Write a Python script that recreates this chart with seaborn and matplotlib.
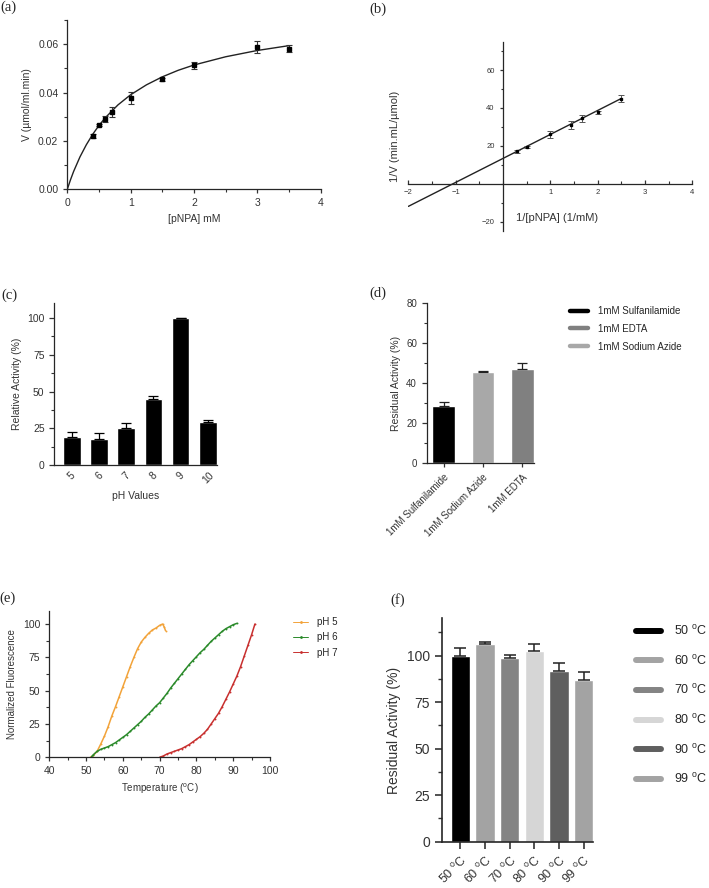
import numpy as np
import seaborn as sns
import matplotlib
matplotlib.use("Agg")
import matplotlib.pyplot as plt
from matplotlib.lines import Line2D
from matplotlib.ticker import MultipleLocator

W, H = 709, 888

# (a) Michaelis-Menten plot
mm_conc = [0.4, 0.5, 0.6, 0.7, 1.0, 1.5, 2.0, 3.0, 3.5]
mm_rate = [0.0221, 0.0265, 0.0291, 0.0319, 0.0377, 0.0454, 0.0512, 0.0589, 0.0581]
mm_err = [0.0007, 0.0005, 0.0012, 0.0020, 0.0025, 0.0005, 0.0015, 0.0025, 0.0015]
fit_conc = [0, 0.05, 0.1, 0.2, 0.3, 0.4, 0.5, 0.6, 0.8, 1.0, 1.25, 1.5, 1.75, 2.0, 2.5, 3.0, 3.5]
fit_rate = [0, 0.0039, 0.0074, 0.0134, 0.0184, 0.0227, 0.0264, 0.0296, 0.0349, 0.0391,
            0.0432, 0.0465, 0.0492, 0.0514, 0.0548, 0.0574, 0.0594]

# (b) Lineweaver-Burk plot
lb_inv_conc = [0.286, 0.5, 1.0, 1.43, 1.67, 2.0, 2.5]
lb_inv_rate = [17.1, 19.6, 26.0, 31.1, 34.6, 37.8, 44.9]
lb_err = [0.7, 0.5, 2.0, 2.0, 1.8, 0.8, 1.8]
lb_line_x = [-2, 2.5]
lb_line_y = [-12.0, 45.0]

# (c) pH profile
ph_labels = ['5', '6', '7', '8', '9', '10']
ph_activity = [19.2, 17.6, 24.9, 44.6, 100.0, 29.0]
ph_err = [3.2, 3.9, 3.8, 2.0, 0.0, 1.5]

# (d) inhibitors
inhib_labels = ['1mM Sulfanilamide', '1mM Sodium Azide', '1mM EDTA']
inhib_activity = [28.5, 45.5, 47.0]
inhib_err = [2.2, 0.3, 3.0]
inhib_colors = ['#000000', '#a8a8a8', '#808080']
inhib_legend = ['1mM Sulfanilamide', '1mM EDTA', '1mM Sodium Azide']

# (e) melting curves
ph5_temp = [51.2, 52, 53, 54, 55, 56, 57, 58, 59, 60, 61, 62, 63, 64, 65, 66, 67, 68, 69, 70,
            70.8, 71.2, 71.6]
ph5_fluor = [0, 1.5, 4.5, 10, 16, 23, 31, 38, 45.5, 53, 60.5, 68, 75, 81.5, 86.5, 90, 93,
             95.5, 97, 99, 100, 98, 95]
ph6_temp = [51.5, 52, 53, 54, 55, 56, 57, 58, 59, 60, 61, 62, 63, 64, 65, 66, 67, 68, 69, 70,
            71, 72, 73, 74, 75, 76, 77, 78, 79, 80, 81, 82, 83, 84, 85, 86, 87, 88, 89, 90, 91]
ph6_fluor = [0.5, 2, 4.5, 6, 7, 8, 9.5, 11, 13, 15, 17, 19.5, 22, 24.5, 27, 30, 32.5, 35.5,
             38.5, 41, 44.5, 48, 52, 55.5, 59, 62.5, 66, 69.5, 72.5, 75.5, 78.5, 81, 84, 87,
             89.5, 92, 94.5, 96.5, 98, 99.5, 100.5]
ph7_temp = [70, 71, 72, 73, 74, 75, 76, 77, 78, 79, 80, 81, 82, 83, 84, 85, 86, 87, 88, 89,
            90, 91, 92, 93, 94, 95, 95.9]
ph7_fluor = [0, 1, 2.5, 3.5, 4.5, 5.5, 6.5, 8, 9.5, 11.5, 13.5, 15.5, 18, 21, 25, 29, 33, 38,
             43.5, 49, 55, 61, 68, 76, 84, 92, 100]
melt_colors = ['#f2a33a', '#2a8a2a', '#c8302f']

# (f) thermal stability
temp_labels = ['50 $^{\\mathrm{o}}$C', '60 $^{\\mathrm{o}}$C', '70 $^{\\mathrm{o}}$C',
               '80 $^{\\mathrm{o}}$C', '90 $^{\\mathrm{o}}$C', '99 $^{\\mathrm{o}}$C']
temp_activity = [99.6, 106.1, 98.9, 102.5, 91.9, 86.6]
temp_err = [4.3, 1.2, 1.6, 3.6, 4.0, 4.3]
temp_colors = ['#000000', '#a3a3a3', '#848484', '#d6d6d6', '#5f5f5f', '#a3a3a3']

sns.set_style("ticks")
plt.rcParams['font.family'] = ['Liberation Sans', 'DejaVu Sans']
plt.rcParams['mathtext.fontset'] = 'custom'
plt.rcParams['mathtext.rm'] = 'Liberation Sans'
plt.rcParams['axes.linewidth'] = 0.9
plt.rcParams['xtick.major.width'] = 0.9
plt.rcParams['ytick.major.width'] = 0.9
plt.rcParams['xtick.minor.width'] = 0.8
plt.rcParams['ytick.minor.width'] = 0.8
plt.rcParams['xtick.color'] = '#333333'
plt.rcParams['ytick.color'] = '#333333'

fig = plt.figure(figsize=(W / 100, H / 100), dpi=100)


def add_ax(x0, y0, x1, y1):
    return fig.add_axes([x0 / W, 1 - y1 / H, (x1 - x0) / W, (y1 - y0) / H])


def panel_label(x, y, s):
    fig.text(x / W, 1 - y / H, s, family='Liberation Serif', fontsize=10.5,
             ha='center', va='center')


def prism_axes(ax, tick_size):
    sns.despine(ax=ax)
    ax.tick_params(axis='both', labelsize=tick_size, length=3.5)
    ax.tick_params(axis='y', which='minor', length=2)


# ---------- (a)
ax = add_ax(67.3, 20, 320.7, 189.3)
sns.lineplot(x=fit_conc, y=fit_rate, color='#222222', lw=1, ax=ax)
ax.errorbar(mm_conc, mm_rate, yerr=mm_err, fmt='s', ms=2.5, color='black',
            ecolor='#333333', elinewidth=0.8, capsize=2, capthick=0.8)
ax.set_xlim(0, 4)
ax.set_ylim(0, 0.07)
ax.set_xticks([0, 1, 2, 3, 4])
ax.set_yticks([0, 0.02, 0.04, 0.06])
ax.set_yticklabels(['0.00', '0.02', '0.04', '0.06'])
ax.xaxis.set_minor_locator(MultipleLocator(0.5))
ax.yaxis.set_minor_locator(MultipleLocator(0.01))
sns.despine(ax=ax)
ax.tick_params(axis='both', labelsize=7.5, length=3)
ax.tick_params(axis='both', which='minor', length=2)
ax.set_xlabel('[pNPA] mM', fontsize=7.5, color='#333333')
ax.set_ylabel('V (µmol/ml.min)', fontsize=7.5, color='#333333')
panel_label(8, 7, '(a)')

# ---------- (b)
ax = add_ax(408.3, 41.7, 692.3, 231)
sns.lineplot(x=lb_line_x, y=lb_line_y, color='#222222', lw=1, ax=ax)
ax.errorbar(lb_inv_conc, lb_inv_rate, yerr=lb_err, fmt='s', ms=1.8, color='black',
            ecolor='#555555', elinewidth=0.7, capsize=2, capthick=0.7)
ax.set_xlim(-2, 4)
ax.set_ylim(-25, 75)
ax.spines['left'].set_position(('data', 0))
ax.spines['bottom'].set_position(('data', 0))
ax.spines['top'].set_visible(False)
ax.spines['right'].set_visible(False)
ax.set_xticks([-2, -1, 1, 2, 3, 4])
ax.set_yticks([-20, 20, 40, 60])
ax.xaxis.set_minor_locator(MultipleLocator(0.5))
ax.yaxis.set_minor_locator(MultipleLocator(10))
ax.tick_params(axis='x', which='both', direction='in', labelsize=5.5, length=3)
ax.tick_params(axis='x', which='minor', length=2)
ax.tick_params(axis='y', labelsize=5.5, length=2.5)
ax.tick_params(axis='y', which='minor', length=1.5)
ax.set_xlabel('1/[pNPA] (1/mM)', fontsize=8, color='#333333')
ax.xaxis.set_label_coords(0.524, 0.095)
ax.set_ylabel('1/V (min.mL/µmol)', fontsize=8, color='#333333')
ax.yaxis.set_label_coords(-0.03, 0.5)
panel_label(378, 9, '(b)')

# ---------- (c)
ax = add_ax(54.3, 303.3, 216.7, 465)
sns.barplot(x=ph_labels, y=ph_activity, color='black', width=0.65, saturation=1, ax=ax)
ax.errorbar(np.arange(len(ph_labels)), ph_activity, yerr=[np.zeros(len(ph_err)), ph_err],
            fmt='none', ecolor='black', elinewidth=0.9, capsize=3.5, capthick=0.9)
ax.set_xlim(-0.65, 5.33)
ax.set_ylim(0, 110)
ax.set_yticks([0, 25, 50, 75, 100])
ax.yaxis.set_minor_locator(MultipleLocator(12.5))
prism_axes(ax, 7.5)
ax.tick_params(axis='x', length=0, pad=4)
plt.setp(ax.get_xticklabels(), rotation=45, ha='center')
ax.set_xlabel('pH Values', fontsize=7.5, color='#333333')
ax.set_ylabel('Relative Activity (%)', fontsize=7.5, color='#333333')
panel_label(9, 295, '(c)')

# ---------- (d)
ax = add_ax(426.7, 302.7, 533.7, 463.3)
sns.barplot(x=inhib_labels, y=inhib_activity, hue=inhib_labels, palette=inhib_colors,
            width=0.58, saturation=1, legend=False, ax=ax)
ax.errorbar(np.arange(len(inhib_labels)), inhib_activity,
            yerr=[np.zeros(len(inhib_err)), inhib_err],
            fmt='none', ecolor='#222222', elinewidth=0.9, capsize=3.5, capthick=0.9)
ax.set_xlim(-0.43, 2.29)
ax.set_ylim(0, 80)
ax.set_yticks([0, 20, 40, 60, 80])
ax.yaxis.set_minor_locator(MultipleLocator(10))
prism_axes(ax, 7)
ax.tick_params(axis='x', length=3)
plt.setp(ax.get_xticklabels(), rotation=45, ha='right', rotation_mode='anchor')
ax.set_xlabel('')
ax.set_ylabel('Residual Activity (%)', fontsize=7.5, color='#333333')
leg_colors = {lab: col for lab, col in zip(inhib_labels, inhib_colors)}
handles = [Line2D([], [], color=leg_colors[lab], lw=3.2) for lab in inhib_legend]
fig.legend(handles, inhib_legend, loc='upper left', bbox_to_anchor=(570 / W, 1 - 306 / H),
           frameon=False, fontsize=7, borderpad=0, borderaxespad=0, handlelength=1.85,
           handletextpad=1.0, labelspacing=0.8)
panel_label(378, 293, '(d)')

# ---------- (e)
ax = add_ax(49.3, 610.7, 270, 757.3)
for t, f, c in zip([ph5_temp, ph6_temp, ph7_temp], [ph5_fluor, ph6_fluor, ph7_fluor],
                   melt_colors):
    sns.lineplot(x=t, y=f, color=c, lw=1.1, marker='.', ms=1.2, mec=c, ax=ax)
ax.set_xlim(40, 100)
ax.set_ylim(0, 110)
ax.set_xticks(range(40, 101, 10))
ax.set_yticks([0, 25, 50, 75, 100])
ax.xaxis.set_minor_locator(MultipleLocator(5))
ax.yaxis.set_minor_locator(MultipleLocator(12.5))
sns.despine(ax=ax)
ax.tick_params(axis='both', labelsize=7.5, length=3)
ax.tick_params(axis='both', which='minor', length=2)
ax.set_xlabel('Temperature ($^{\\mathrm{o}}$C)', fontsize=7, color='#333333')
ax.set_ylabel('Normalized Fluorescence', fontsize=7, color='#333333')
handles = [Line2D([], [], color=c, lw=0.7, marker='.', ms=2) for c in melt_colors]
fig.legend(handles, ['pH 5', 'pH 6', 'pH 7'], loc='upper left',
           bbox_to_anchor=(293 / W, 1 - 617 / H), frameon=False, fontsize=7, borderpad=0,
           borderaxespad=0, handlelength=1.55, handletextpad=0.9, labelspacing=0.55)
panel_label(8, 598, '(e)')

# ---------- (f)
ax = add_ax(441.7, 618.3, 593.3, 841.7)
sns.barplot(x=temp_labels, y=temp_activity, hue=temp_labels, palette=temp_colors,
            width=0.78, saturation=1, legend=False, ax=ax)
ax.errorbar(np.arange(len(temp_labels)), temp_activity,
            yerr=[np.zeros(len(temp_err)), temp_err],
            fmt='none', ecolor='#222222', elinewidth=1.1, capsize=4, capthick=1.1)
ax.set_xlim(-0.76, 5.39)
ax.set_ylim(0, 120)
ax.set_yticks([0, 25, 50, 75, 100])
ax.yaxis.set_minor_locator(MultipleLocator(12.5))
for s in ['left', 'bottom']:
    ax.spines[s].set_linewidth(1.2)
prism_axes(ax, 10)
ax.tick_params(axis='both', length=5, width=1.2)
ax.tick_params(axis='y', which='minor', length=3, width=1)
plt.setp(ax.get_xticklabels(), rotation=45, ha='right', rotation_mode='anchor', fontsize=9)
ax.set_xlabel('')
ax.set_ylabel('Residual Activity (%)', fontsize=10, color='#333333')
handles = [Line2D([], [], color=c, lw=4.3) for c in temp_colors]
fig.legend(handles, temp_labels, loc='upper left', bbox_to_anchor=(636 / W, 1 - 624 / H),
           frameon=False, fontsize=9, borderpad=0, borderaxespad=0, handlelength=2.0,
           handletextpad=1.0, labelspacing=1.25)
panel_label(398, 600, '(f)')

fig.savefig('out.png', dpi=100)
